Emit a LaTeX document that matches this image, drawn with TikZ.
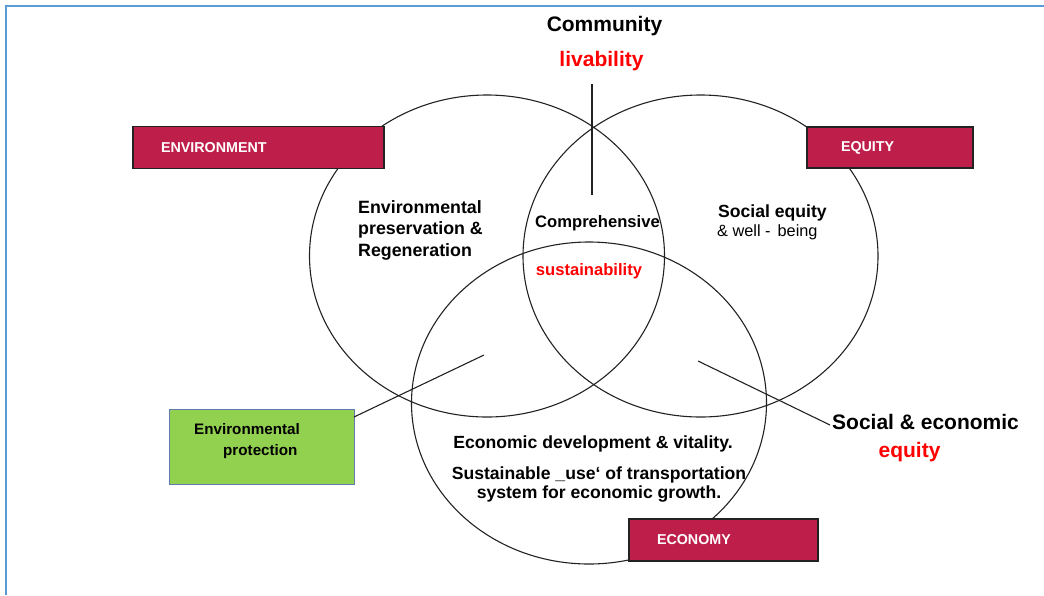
\documentclass[tikz,border=0pt]{standalone}
\usepackage{fontspec}
\setmainfont{Liberation Sans}
\usetikzlibrary{shapes.geometric}
\definecolor{crim}{HTML}{BE1E4A}
\definecolor{leaf}{HTML}{92D050}
\definecolor{leafedge}{HTML}{5E7DAE}
\definecolor{frameblue}{HTML}{5B9BD5}
\definecolor{redtxt}{HTML}{FF0000}
\definecolor{ink}{HTML}{222222}
\begin{document}
\begin{tikzpicture}[x=1pt,y=-1pt,
  venn/.style={ellipse, draw=ink, line width=1.1pt, minimum width=355pt, minimum height=322pt, inner sep=0pt, outer sep=0pt},
  tagbox/.style={draw=ink, line width=1.1pt, fill=crim, text=white, font=\fontsize{14.3}{17}\selectfont\bfseries, minimum height=42pt, inner ysep=0pt, outer sep=0pt, align=left},
  bodytxt/.style={inner sep=0pt, font=\fontsize{17.6}{19}\selectfont\bfseries},
  bigtxt/.style={inner sep=0pt, font=\fontsize{21}{25}\selectfont\bfseries},
  midtxt/.style={inner sep=0pt, font=\fontsize{16.6}{20}\selectfont\bfseries},
  link/.style={draw=ink, line width=1.1pt}
]
\useasboundingbox (0,0) rectangle (1044,595);
% frame
\draw[frameblue, line width=2.2pt] (6,595) -- (6,6) -- (1044,6);
% circles
\node[venn] (cenv) at (487,256) {};
\node[venn] (cequ) at (700.5,256) {};
\node[venn] (ceco) at (589,403) {};
% boxes
\node[tagbox, text width=195pt, inner xsep=28pt] (benv) at (258.5,147.5) {ENVIRONMENT};
\node[tagbox, text width=98pt, inner xsep=34pt, minimum height=41pt] (bequ) at (890,147.5) {EQUITY};
\node[tagbox, text width=133pt, inner xsep=28pt] (beco) at (723.5,540) {ECONOMY};
\node[draw=leafedge, line width=0.9pt, fill=leaf, minimum width=185pt, minimum height=75pt, inner sep=0pt, outer sep=0pt] (bprot) at (261.5,446.5) {};
\node[anchor=west, align=left, inner sep=0pt, font=\fontsize{15.2}{21}\selectfont\bfseries] (tprot) at (194,441.5) {Environmental\\\hspace*{29pt}protection};
% top labels
\node[bigtxt] (comm) at (604.5,26) {Community};
\node[bigtxt, text=redtxt] (liv) at (601.5,61) {livability};
\coordinate (vtop) at (592,84);
\coordinate (vbot) at (592,195);
\draw[link] (vtop) -- (vbot);
% circle texts
\node[anchor=west, align=left, inner sep=0pt, font=\fontsize{17.8}{21.5}\selectfont\bfseries] (tenv) at (358,230) {Environmental\\preservation \&\\Regeneration};
\node[midtxt] (tcomp) at (597.5,223) {Comprehensive};
\node[midtxt, text=redtxt] (tsus) at (589,271) {sustainability};
\node[anchor=west, inner sep=0pt, font=\fontsize{17.6}{20}\selectfont\bfseries] (tsoc) at (718,213) {Social equity};
\node[anchor=west, inner sep=0pt, font=\fontsize{16.3}{20}\selectfont] (twell) at (717,232) {\& well -\hspace{7pt}being};
\node[bodytxt] (teco) at (593,444) {Economic development \& vitality.};
\node[bodytxt, align=center] (tuse) at (599,484) {Sustainable \_use‘ of transportation\\system for economic growth.};
% right labels
\node[bigtxt, anchor=west] (tse) at (832,422) {Social \& economic};
\node[bigtxt, text=redtxt] (teq) at (909.5,452) {equity};
% connectors
\coordinate (lpt) at (484,355);
\coordinate (rpt) at (698,361);
\draw[link] ([yshift=-8pt]bprot.north east) -- (lpt);
\draw[link] (rpt) -- ([xshift=-2pt,yshift=-3pt]tse.west);
\end{tikzpicture}
\end{document}
